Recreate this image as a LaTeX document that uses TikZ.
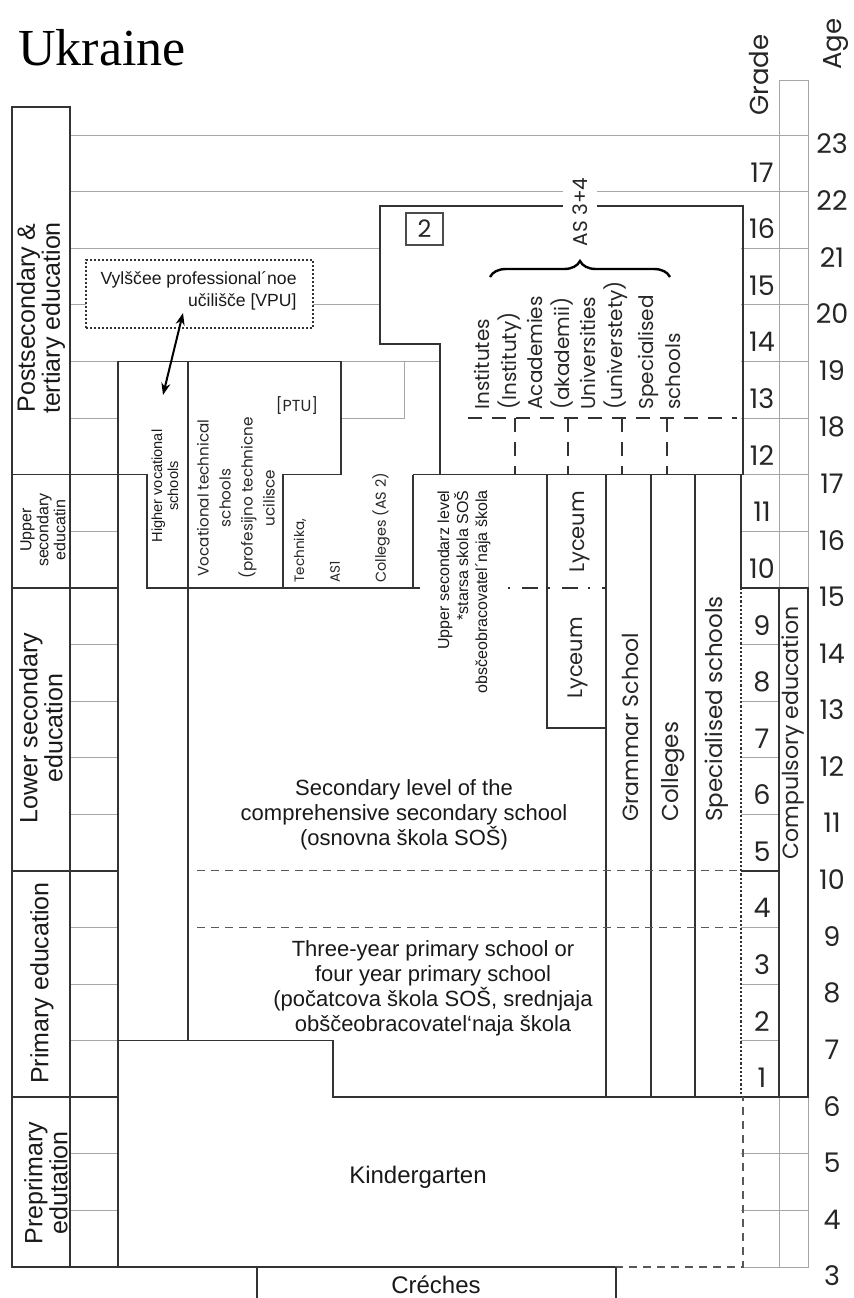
\documentclass[tikz,border=0pt]{standalone}
\usepackage{fontspec}
\setmainfont{Liberation Sans}
\newfontfamily\gothic{Poppins}
\newfontfamily\titlefont{Liberation Serif}
\usepackage{tikz}
\usetikzlibrary{arrows.meta,decorations.pathreplacing}

% y position of an age line (in px of the chart)
\newcommand{\ay}[1]{{1267-(#1-3)*56.6}}

\tikzstyle{bold} = [draw=black!80, line width=0.8pt]
\tikzstyle{agerule} = [draw=black!35, line width=0.5pt]
\tikzstyle{dashrule} = [draw=black!65, line width=0.6pt, dash pattern=on 4pt off 3pt]
\tikzstyle{longdash} = [draw=black!80, line width=0.7pt, dash pattern=on 7pt off 5pt]
\tikzstyle{sidetext} = [rotate=90, align=center, inner sep=0pt, text=black!90, font=\fontsize{12.5}{12.5}\selectfont]
\tikzstyle{gtext} = [inner sep=0pt, text=black!85, font=\gothic\fontsize{10}{13.5}\selectfont]
\tikzstyle{num} = [inner sep=0pt, text=black!85, font=\gothic\fontsize{13.5}{14}\selectfont]
\tikzstyle{body} = [inner sep=0pt, align=center, text=black!90, font=\fontsize{11}{12.5}\selectfont]

\begin{document}
\begin{tikzpicture}[x=0.5pt,y=-0.5pt]
\useasboundingbox (0,0) rectangle (853,1298);

% title and heads
\node (title) [anchor=base west, inner sep=0pt, font=\titlefont\fontsize{26}{26}\selectfont] at (18,65) {Ukraine};
\node (grade) [num, rotate=90, font=\gothic\fontsize{13}{13}\selectfont] at (759,75) {Grade};
\node (age) [num, rotate=90, font=\gothic\fontsize{13}{13}\selectfont] at (836,44) {Age};

% age grid
\draw[agerule] (779,80) rectangle (808,1267);
\draw[agerule] (70,\ay{23}) -- (808,\ay{23});
\draw[agerule] (70,\ay{22}) -- (808,\ay{22});
\draw[agerule] (70,\ay{21}) -- (380,\ay{21});
\draw[agerule] (70,\ay{20}) -- (86,\ay{20}) (313,\ay{20}) -- (380,\ay{20});
\draw[agerule] (341,\ay{19}) -- (440,\ay{19});
\draw[agerule] (341,\ay{18}) -- (404,\ay{18}) -- (404,\ay{19});
\foreach \a in {4,5,7,8,9,11,12,13,14,16,18,19}
  \draw[agerule] (70,\ay{\a}) -- (118,\ay{\a});
\foreach \a in {4,5,16,17,18,19,20,21}
  \draw[agerule] (741,\ay{\a}) -- (808,\ay{\a});
\foreach \a in {7,8,9,11,12,13,14}
  \draw[agerule] (741,\ay{\a}) -- (779,\ay{\a});
\draw[agerule] (743,\ay{3}) -- (808,\ay{3});

% level column
\draw[bold] (12,107) rectangle (70,1267);
\draw[bold] (70,1267) -- (118,1267);
\foreach \a in {17,15,10,6}
  \draw[bold] (12,\ay{\a}) -- (118,\ay{\a});

% tertiary block
\draw[bold] (380,206) -- (743,206) -- (743,\ay{17}) -- (440,\ay{17}) -- (440,344) -- (380,344) -- cycle;
\draw[longdash] (468,\ay{18}) -- (737,\ay{18});
\foreach \x in {515,568,622,667}
  \draw[longdash] (\x,\ay{18}) -- (\x,\ay{17});
\draw[decorate, decoration={brace, amplitude=8pt}, line width=1.2pt] (490,277) -- (670,277);

% vocational blocks
\draw[bold] (118,\ay{3}) -- (118,\ay{19}) -- (341,\ay{19}) -- (341,\ay{17}) -- (283,\ay{17}) -- (283,\ay{15});
\draw[bold] (188,\ay{19}) -- (188,\ay{7});
\draw[bold] (118,\ay{17}) -- (147,\ay{17}) -- (147,\ay{15}) -- (420,\ay{15});
\draw[bold] (413,\ay{17}) -- (440,\ay{17});
\draw[bold] (413,\ay{17}) -- (413,\ay{15});

% upper secondary columns
\draw[bold] (547,\ay{17}) -- (547,728) -- (606,728);
\foreach \x in {606,651,695}
  \draw[bold] (\x,\ay{17}) -- (\x,\ay{6});
\draw[bold] (741,\ay{17}) -- (741,\ay{15});
\draw[longdash, dash pattern=on 1pt off 6pt on 8pt off 5pt] (508,\ay{15}) -- (606,\ay{15});

% compulsory part
\draw[bold] (741,\ay{15}) -- (808,\ay{15}) -- (808,\ay{6}) -- (779,\ay{6});
\draw[bold] (779,\ay{15}) -- (779,\ay{6});
\draw[bold] (741,\ay{10}) -- (779,\ay{10});
\draw[draw=black!80, line width=1.1pt, densely dotted] (741,\ay{15}) -- (741,\ay{6});
\draw[dashrule] (197,\ay{10}) -- (741,\ay{10});
\draw[dashrule] (197,\ay{9}) -- (741,\ay{9});

% pre-primary
\draw[bold] (118,\ay{7}) -- (333,\ay{7}) -- (333,\ay{6}) -- (808,\ay{6});
\draw[bold] (118,\ay{3}) -- (615,\ay{3});
\draw[dashrule] (615,\ay{3}) -- (743,\ay{3}) -- (743,\ay{6});
\draw[bold] (257,1298) -- (257,\ay{3});
\draw[bold] (616,1298) -- (616,\ay{3});

% level names
\node (post) [sidetext] at (41,318) {Postsecondary \&\\tertiary education};
\node (upper) [sidetext, font=\fontsize{8}{8.5}\selectfont] at (43,530) {Upper\\secondary\\educatin};
\node (lower) [sidetext] at (41,728) {Lower secondary\\education};
\node (prim) [sidetext] at (42,983) {Primary education};
\node (pre) [sidetext] at (46,1183) {Preprimary\\edutation};

% tertiary
\node (as34) [gtext, rotate=90, fill=white, inner xsep=3pt, inner ysep=5pt, font=\gothic\fontsize{10}{10}\selectfont] at (580,212) {AS 3+4};
\node (two) [draw=black!70, line width=0.6pt, minimum width=18.5pt, minimum height=16pt, gtext, font=\gothic\fontsize{12}{12}\selectfont] at (424.5,229) {2};
\node (inst) [gtext, rotate=90, anchor=west, align=left] at (497.5,410) {Institutes\\(Instituty)};
\node (acad) [gtext, rotate=90, anchor=west, align=left] at (550.5,410) {Academies\\(akademii)};
\node (univ) [gtext, rotate=90, anchor=west, align=left] at (603.5,410) {Universities\\(universtety)};
\node (spec) [gtext, rotate=90, anchor=west, align=left] at (659,410) {Specialised\\schools};

% vocational
\node (vpu) [draw=black!80, densely dotted, line width=1pt, minimum width=113.5pt, minimum height=34pt] at (199.5,294) {};
\node (vputext) [anchor=east, align=right, inner sep=0pt, text=black!90, font=\fontsize{8.8}{11}\selectfont] at (297,291) {Vylščee professional´noe\\učilišče [VPU]};
\coordinate (vputip) at (183,313);
\coordinate (hvtip) at (163,395);
\draw[{Stealth[length=6pt]}-{Stealth[length=6pt]}, line width=1pt] (vputip) -- (hvtip);
\node (hvs) [rotate=90, align=center, inner sep=0pt, text=black!90, font=\fontsize{7.3}{8}\selectfont] at (165,486) {Higher vocational\\schools};
\node (vts) [gtext, rotate=90, align=center, font=\gothic\fontsize{7.6}{11}\selectfont] at (236,498) {Vocational technical\\schools\\(profesijno technicne\\ucilisce};
\node (ptu) [gtext, font=\gothic\fontsize{8}{8}\selectfont] at (297,406) {[PTU]};
\node (tech) [gtext, rotate=90, anchor=west, font=\gothic\fontsize{6.8}{7}\selectfont] at (300,583) {Technika,};
\node (as1) [gtext, rotate=90, anchor=west, font=\gothic\fontsize{6.8}{7}\selectfont] at (335,583) {AS1};
\node (coll2) [gtext, rotate=90, anchor=west, font=\gothic\fontsize{7.2}{8}\selectfont] at (381,583) {Colleges (AS 2)};

% upper secondary
\node (uss) [rotate=90, anchor=east, align=right, inner sep=0pt, text=black!90, font=\fontsize{8}{9.5}\selectfont] at (464,490) {Upper secondarz level\\*starsa skola SOŠ\\obsčeobracovatel´naja škola};
\node (lyc1) [gtext, font=\gothic\fontsize{10.5}{11}\selectfont, rotate=90] at (580,532) {Lyceum};
\node (lyc2) [gtext, font=\gothic\fontsize{10.5}{11}\selectfont, rotate=90] at (578,658) {Lyceum};
\node (gram) [gtext, font=\gothic\fontsize{11}{11}\selectfont, rotate=90, anchor=west] at (630,822) {Grammar School};
\node (coll) [gtext, font=\gothic\fontsize{11.5}{11.5}\selectfont, rotate=90, anchor=west] at (673,822) {Colleges};
\node (spsc) [gtext, font=\gothic\fontsize{11.5}{11.5}\selectfont, rotate=90, anchor=west] at (717,822) {Specialised schools};
\node (comp) [gtext, font=\gothic\fontsize{11}{11}\selectfont, rotate=90] at (793,733) {Compulsory education};

% comprehensive school
\node (sec) [body] at (404,815) {Secondary level of the\\comprehensive secondary school\\(osnovna škola SOŠ)};
\node (pri) [body] at (433,988) {Three-year primary school or\\four year primary school\\(počatcova škola SOŠ, srednjaja\\obščeobracovatel‘naja škola};
\node (kg) [body, font=\fontsize{12}{12}\selectfont] at (418,1177) {Kindergarten};
\node (cr) [body, font=\fontsize{12}{12}\selectfont] at (436,1285) {Créches};

% grades and ages
\foreach \g in {1,...,17}
  \node (g\g) [num] at (762,{1276-(\g+2.5)*56.6}) {\g};
\foreach \a in {3,...,23}
  \node (a\a) [num] at (832,{1276-(\a-3)*56.6}) {\a};
\end{tikzpicture}
\end{document}
